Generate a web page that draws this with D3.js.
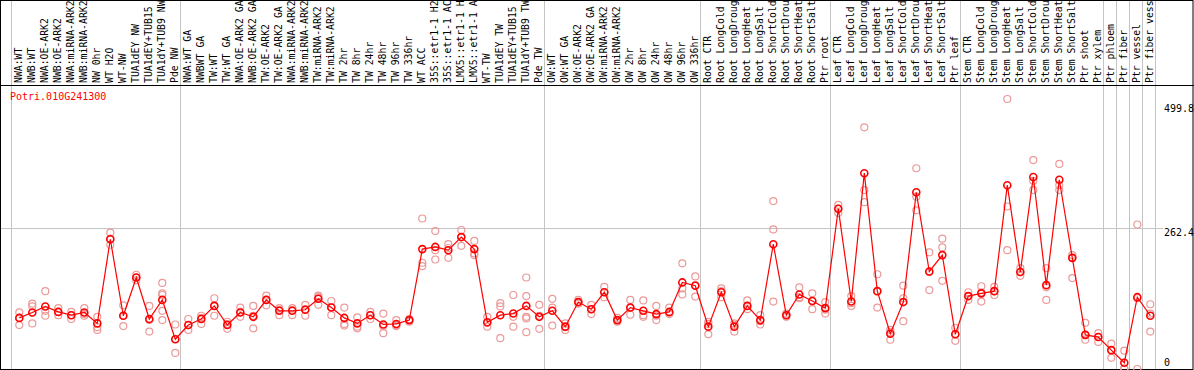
<!DOCTYPE html>
<html>
<head>
<meta charset="utf-8">
<script src="https://cdn.jsdelivr.net/npm/d3@7/dist/d3.min.js"></script>
<style>
  body { margin: 0; background: #fff; }
  svg { display: block; font-family: "DejaVu Sans Mono", monospace; font-size: 10px; }
  .sample { font-size: 9.8px; }
</style>
</head>
<body>
<div class="canvas"></div>
<script>
const geneName = 'Potri.010G241300';

// sample names as far as the header shows them
const samples = [
    'NWA:WT', 'NWB:WT', 'NWA:OE-ARK2', 'NWB:OE-ARK2', 'NWA:miRNA-ARK2', 'NWB:miRNA-ARK2',
    'NW 0hr', 'WT H2O', 'WT-NW', 'TUA1dEY NW', 'TUA1dEY+TUB15', 'TUA1dY+TUB9 NW', 'Pde NW',
    'NWA:WT GA', 'NWBWT GA', 'TW:WT', 'TW:WT GA', 'NWA:OE-ARK2 GA', 'NWB:OE-ARK2 GA',
    'TW:OE-ARK2', 'TW:OE-ARK2 GA', 'NWA:miRNA-ARK2', 'NWB:miRNA-ARK2', 'TW:miRNA-ARK2',
    'TW:miRNA-ARK2', 'TW 2hr', 'TW 8hr', 'TW 24hr', 'TW 48hr', 'TW 96hr', 'TW 336hr',
    'WT ACC', '35S::etr1-1 H2', '35S::etr1-1 AC', 'LMX5::etr1-1 H', 'LMX5::etr1-1 A',
    'WT-TW', 'TUA1dEY TW', 'TUA1dEY+TUB15', 'TUA1dY+TUB9 TW', 'Pde TW',
    'OW:WT', 'OW:WT GA', 'OW:OE-ARK2', 'OW:OE-ARK2 GA', 'OW:miRNA-ARK2', 'OW:miRNA-ARK2',
    'OW 2hr', 'OW 8hr', 'OW 24hr', 'OW 48hr', 'OW 96hr', 'OW 336hr',
    'Root CTR', 'Root LongCold', 'Root LongDroug', 'Root LongHeat', 'Root LongSalt',
    'Root ShortCold', 'Root ShortDrou', 'Root ShortHeat', 'Root ShortSalt', 'Ptr root',
    'Leaf CTR', 'Leaf LongCold', 'Leaf LongDroug', 'Leaf LongHeat', 'Leaf LongSalt',
    'Leaf ShortCold', 'Leaf ShortDrou', 'Leaf ShortHeat', 'Leaf ShortSalt', 'Ptr leaf',
    'Stem CTR', 'Stem LongCold', 'Stem LongDroug', 'Stem LongHeat', 'Stem LongSalt',
    'Stem ShortCold', 'Stem ShortDrou', 'Stem ShortHeat', 'Stem ShortSalt', 'Ptr shoot',
    'Ptr xylem', 'Ptr phloem', 'Ptr fiber', 'Ptr vessel', 'Ptr fiber vess'
];

// mean expression per sample
const means = [
    99, 109, 120, 110, 104, 109, 89, 243, 103, 173, 97, 132, 60,
    86, 97, 121, 86, 109, 101, 132, 112, 112, 114, 134, 118, 99, 89, 104, 87, 88, 95,
    225, 229, 223, 247, 225, 91, 104, 107, 121, 101,
    112, 83, 128, 115, 146, 95, 118, 112, 106, 110, 164, 158,
    83, 146, 83, 121, 95, 234, 104, 142, 130, 117,
    299, 129, 364, 148, 70, 128, 329, 184, 214, 69,
    139, 144, 148, 342, 183, 357, 159, 352, 209, 68,
    64, 40, 17, 137, 103
];

// individual replicates per sample
const replicates = [
    [109, 86, 99], [125, 120, 89], [148, 112, 103], [117, 104, 110], [110, 97, 104], [117, 103, 106],
    [101, 82, 77], [255, 233, 244], [122, 84, 103], [178, 168, 173], [121, 74, 95],
    [163, 144, 141, 112, 95], [87, 35, 60],
    [97, 77, 86], [103, 88, 99], [135, 103, 121], [92, 79, 88], [118, 101, 110], [121, 80, 103],
    [140, 122, 132], [117, 104, 114], [117, 104, 114], [123, 103, 115], [140, 123, 137],
    [130, 104, 119], [118, 88, 85], [100, 83, 80], [110, 97, 104], [107, 71, 84], [95, 84, 86],
    [97, 92, 95],
    [281, 200, 194], [258, 223, 206], [234, 209, 227], [260, 231, 247], [240, 217, 214],
    [101, 83, 90], [126, 120, 62], [141, 101, 83], [173, 139, 101, 98, 73], [123, 79, 103],
    [134, 118, 85], [89, 77, 82], [132, 125, 128], [123, 106, 115], [156, 137, 146], [99, 92, 95],
    [132, 105, 117], [131, 104, 101], [121, 95, 103], [118, 106, 108], [199, 153, 142],
    [175, 138, 159],
    [92, 69, 88], [153, 137, 148], [89, 74, 86], [131, 115, 121], [104, 87, 93], [313, 261, 129],
    [107, 101, 104], [155, 135, 137], [144, 115, 130], [128, 107, 114],
    [306, 291, 299], [139, 121, 126], [448, 333, 311], [179, 118, 148], [77, 59, 73],
    [158, 135, 93], [373, 321, 296], [219, 150, 183], [244, 228, 167], [81, 57, 69],
    [146, 132, 139], [157, 129, 146], [156, 141, 148], [499.8, 223, 303], [190, 176, 183],
    [388, 333, 350], [190, 132, 155], [381, 333, 342], [214, 172, 209], [90, 59, 68],
    [71, 55, 64], [52, 26, 40], [39, 5.5, 6.5], [270, 5.5, 135], [124, 107, 74]
];

// last sample index of every block (-1 = left edge)
const groupEnds = [-1, 12, 40, 52, 62, 72, 83, 84, 85, 86, 87];

const tickValues = [499.8, 262.4, 0];

const app = {
    dims: {
        width: 1194,
        height: 370,
        headerBottom: 85,
        plotBottom: 369,
        labelX: 1164
    },
    svg: null,
    x: null,
    y: null,

    init: function() {
        const d = app.dims;
        app.svg = d3.select('.canvas')
            .append('svg')
            .attr('width', d.width)
            .attr('height', d.height);

        // sample index -> pixel
        app.x = d3.scaleLinear()
            .domain([0, samples.length - 1])
            .range([19.3, 19.3 + 13 * (samples.length - 1)]);

        app.y = d3.scaleLinear()
            .domain([0, 499.8])
            .range([372, 99]);

        app.drawFrame();
        app.drawLabels();
        app.drawData();
    },

    drawFrame: function() {
        const d = app.dims;
        const crisp = v => Math.round(v) + 0.5;

        // block separators
        app.svg.append('g')
            .selectAll('line')
            .data(groupEnds)
            .enter()
            .append('line')
                .attr('x1', i => crisp(app.x(i) + 5))
                .attr('x2', i => crisp(app.x(i) + 5))
                .attr('y1', 0)
                .attr('y2', d.plotBottom)
                .attr('stroke', '#c4c4c4')
                .attr('stroke-width', 1);

        // mid gridline
        app.svg.append('line')
            .attr('x1', 1)
            .attr('x2', d.labelX - 1)
            .attr('y1', crisp(app.y(tickValues[1]) - 0.5))
            .attr('y2', crisp(app.y(tickValues[1]) - 0.5))
            .attr('stroke', '#c4c4c4')
            .attr('stroke-width', 1);

        // outer border and header rule
        app.svg.append('rect')
            .attr('x', 0.5)
            .attr('y', 0.5)
            .attr('width', d.width - 1.5)
            .attr('height', d.plotBottom)
            .attr('fill', 'none')
            .attr('stroke', '#000')
            .attr('stroke-width', 1);

        app.svg.append('line')
            .attr('x1', 0)
            .attr('x2', d.width)
            .attr('y1', d.headerBottom + 0.5)
            .attr('y2', d.headerBottom + 0.5)
            .attr('stroke', '#000')
            .attr('stroke-width', 1);
    },

    drawLabels: function() {
        const d = app.dims;

        // rotated sample names
        app.svg.append('g')
            .selectAll('text')
            .data(samples)
            .enter()
            .append('text')
                .attr('class', 'sample')
                .attr('transform', (s, i) => `translate(${app.x(i) + 3}, ${d.headerBottom - 2}) rotate(-90)`)
                .attr('fill', '#000')
                .text(s => s);

        // gene id
        app.svg.append('text')
            .attr('x', 10)
            .attr('y', 100)
            .attr('fill', '#ff0000')
            .text(geneName);

        // value labels on the right
        app.svg.append('g')
            .selectAll('text')
            .data(tickValues)
            .enter()
            .append('text')
                .attr('x', d.labelX)
                .attr('y', v => Math.min(Math.max(app.y(v), 104), 358) + 7.5)
                .attr('fill', '#000')
                .text(v => v === 0 ? '0' : v.toFixed(1));
    },

    drawData: function() {
        const reps = [];
        replicates.forEach((list, i) => {
            list.forEach(v => reps.push({ i: i, v: v }));
        });

        app.svg.append('g')
            .selectAll('circle')
            .data(reps)
            .enter()
            .append('circle')
                .attr('cx', r => app.x(r.i))
                .attr('cy', r => app.y(r.v))
                .attr('r', 3.5)
                .attr('fill', 'none')
                .attr('stroke', '#eb9a9a')
                .attr('stroke-width', 1.2);

        const line = d3.line()
            .x((v, i) => app.x(i))
            .y(v => app.y(v));

        app.svg.append('path')
            .datum(means)
            .attr('d', line)
            .attr('fill', 'none')
            .attr('stroke', '#ff0000')
            .attr('stroke-width', 1.2);

        app.svg.append('g')
            .selectAll('circle')
            .data(means)
            .enter()
            .append('circle')
                .attr('cx', (v, i) => app.x(i))
                .attr('cy', v => app.y(v))
                .attr('r', 3.5)
                .attr('fill', 'none')
                .attr('stroke', '#ff0000')
                .attr('stroke-width', 1.6);
    }
};

document.addEventListener('DOMContentLoaded', app.init);
</script>
</body>
</html>
